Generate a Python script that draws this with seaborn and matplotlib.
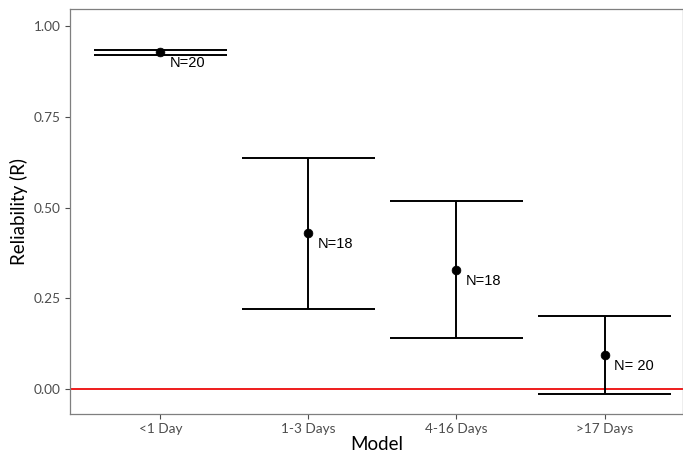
import matplotlib
matplotlib.use("Agg")
import matplotlib.pyplot as plt
import seaborn as sns
import pandas as pd
import numpy as np

categories = ["<1 Day", "1-3 Days", "4-16 Days", ">17 Days"]
means = [0.930, 0.430, 0.328, 0.094]
lower = [0.922, 0.221, 0.141, -0.014]
upper = [0.936, 0.637, 0.519, 0.201]
labels = ["N=20", "N=18", "N=18", "N= 20"]

df = pd.DataFrame({"Model": categories, "R": means, "lo": lower, "hi": upper})
pos = np.arange(len(categories))

sns.set_theme(style="white")
plt.rcParams["font.family"] = ["Lato", "DejaVu Sans"]

fig = plt.figure(figsize=(6.83, 4.55), dpi=100)
ax = fig.add_axes([70 / 683, 1 - 414 / 455, (683 - 70) / 683, (414 - 9) / 455])

ax.axhline(0, color="#ee1c1c", lw=1.4, zorder=1)
ax.vlines(pos, df["lo"], df["hi"], color="black", lw=1.4, zorder=2)
hw = 0.45
ax.hlines(df["lo"], pos - hw, pos + hw, color="black", lw=1.4, zorder=2)
ax.hlines(df["hi"], pos - hw, pos + hw, color="black", lw=1.4, zorder=2)
sns.scatterplot(x=pos, y=df["R"], ax=ax, color="black", s=40, edgecolor="black", zorder=3)

for p, m, t in zip(pos, means, labels):
    ax.text(p + 0.065, m - 0.03, t, fontsize=10.5, family="Liberation Sans",
            ha="left", va="center", color="black")

ax.set_xlim(-0.61, 3.53)
ax.set_ylim(-0.069, 1.048)
ax.set_xticks(pos)
ax.set_xticklabels(categories)
ax.set_yticks([0, 0.25, 0.5, 0.75, 1.0])
ax.set_yticklabels(["0.00", "0.25", "0.50", "0.75", "1.00"])
ax.tick_params(axis="both", labelsize=9.8, colors="#4d4d4d", length=3.5, width=0.8,
               direction="out", bottom=True, left=True, pad=3)
for lab in ax.get_xticklabels() + ax.get_yticklabels():
    lab.set_color("#4d4d4d")
for s in ax.spines.values():
    s.set_color("#7f7f7f")
    s.set_linewidth(0.9)
ax.set_xlabel("Model", fontsize=13.5, color="black", labelpad=1)
ax.set_ylabel("Reliability (R)", fontsize=13.5, color="black", labelpad=4)
ax.grid(False)

fig.savefig("out.png", dpi=100)
